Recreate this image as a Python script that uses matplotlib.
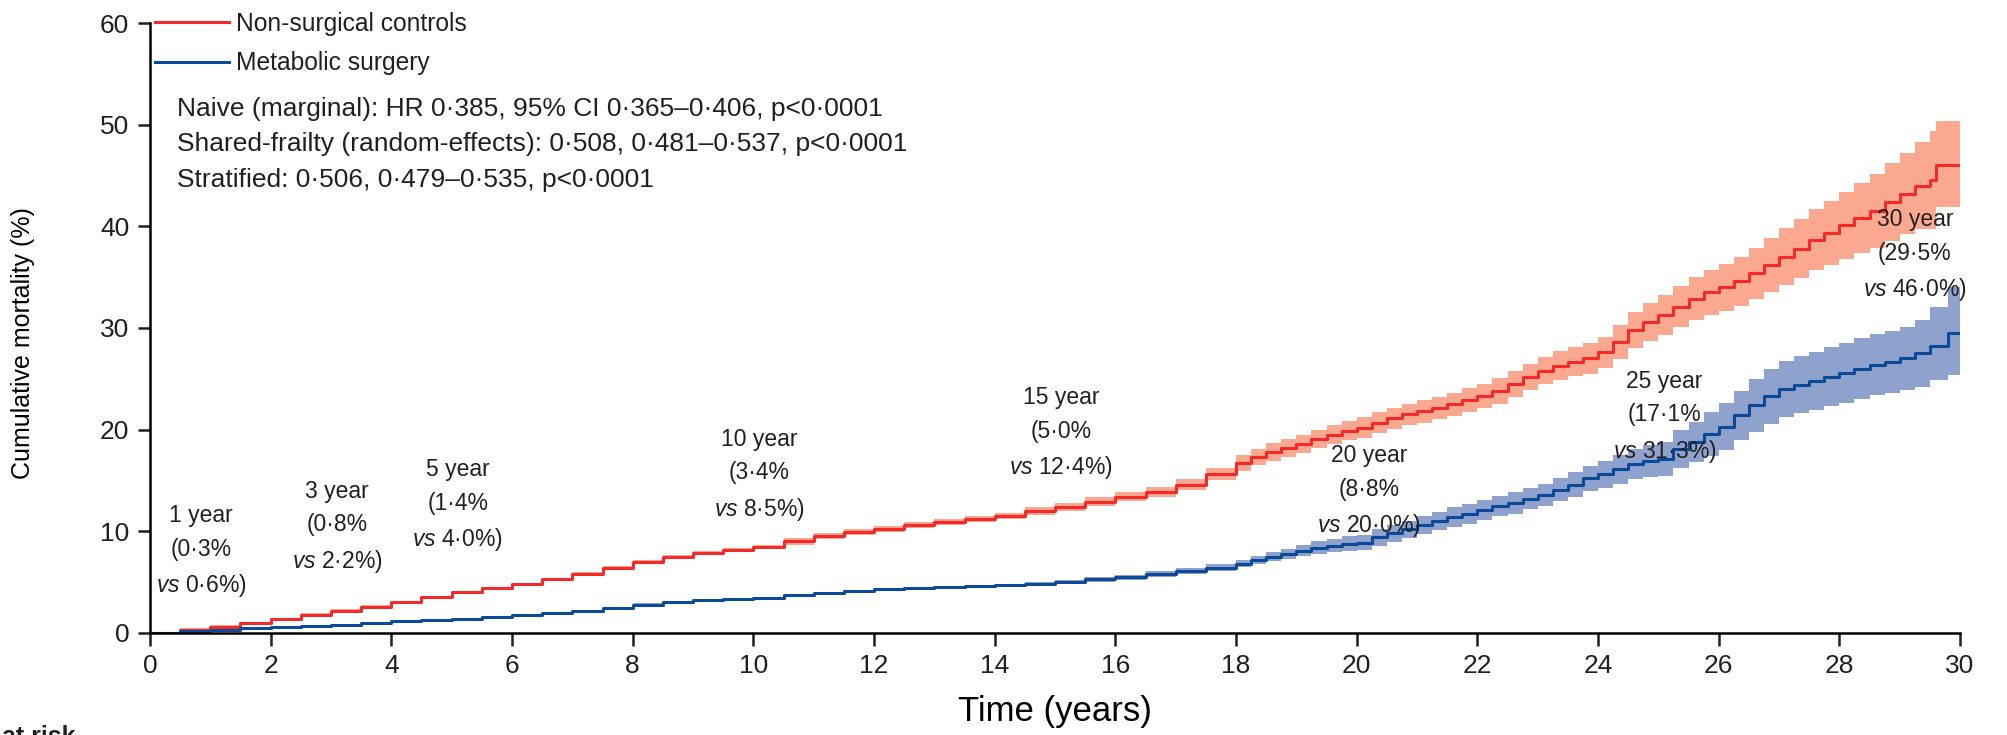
import numpy as np
import matplotlib
matplotlib.use("Agg")
import matplotlib.pyplot as plt
from matplotlib import font_manager

# time grid (years): 0.5-year steps to 17.5, then 0.25-year steps
t = [0.0, 0.5, 1.0, 1.5, 2.0, 2.5, 3.0, 3.5, 4.0, 4.5, 5.0, 5.5, 6.0, 6.5, 7.0, 7.5,
     8.0, 8.5, 9.0, 9.5, 10.0, 10.5, 11.0, 11.5, 12.0, 12.5, 13.0, 13.5, 14.0, 14.5,
     15.0, 15.5, 16.0, 16.5, 17.0, 17.5,
     18.0, 18.25, 18.5, 18.75, 19.0, 19.25, 19.5, 19.75, 20.0, 20.25, 20.5, 20.75,
     21.0, 21.25, 21.5, 21.75, 22.0, 22.25, 22.5, 22.75, 23.0, 23.25, 23.5, 23.75,
     24.0, 24.25, 24.5, 24.75, 25.0, 25.25, 25.5, 25.75, 26.0, 26.25, 26.5, 26.75,
     27.0, 27.25, 27.5, 27.75, 28.0, 28.25, 28.5, 28.75, 29.0, 29.25, 29.5,
     29.6, 29.8, 30.0]

# non-surgical controls, cumulative mortality (%) and 95% CI
controls = [0.0, 0.3, 0.6, 0.95, 1.35, 1.8, 2.2, 2.6, 3.0, 3.5, 4.0, 4.4, 4.8, 5.3, 5.8, 6.4,
            7.0, 7.5, 7.9, 8.2, 8.5, 9.0, 9.5, 9.9, 10.2, 10.6, 10.9, 11.2, 11.5, 12.0,
            12.4, 12.9, 13.4, 13.9, 14.6, 15.6,
            16.7, 17.3, 17.8, 18.2, 18.6, 19.1, 19.5, 19.9, 20.2, 20.7, 21.1, 21.5,
            21.8, 22.1, 22.5, 22.9, 23.3, 23.8, 24.5, 25.2, 25.8, 26.3, 26.7, 27.0,
            27.6, 28.6, 29.8, 30.6, 31.3, 32.1, 32.9, 33.5, 34.0, 34.6, 35.4, 36.2,
            37.0, 37.8, 38.7, 39.3, 40.1, 40.8, 41.5, 42.4, 43.2, 44.0, 44.6,
            46.0, 46.0, 46.0]
controls_lo = [0.0, 0.15, 0.45, 0.8, 1.2, 1.65, 2.05, 2.45, 2.85, 3.35, 3.85, 4.25, 4.65, 5.15, 5.65, 6.25,
               6.85, 7.35, 7.75, 8.05, 8.3, 8.7, 9.2, 9.6, 9.9, 10.3, 10.6, 10.9, 11.2, 11.6,
               12.0, 12.45, 12.95, 13.4, 14.1, 15.0,
               15.9, 16.5, 16.95, 17.35, 17.7, 18.2, 18.55, 18.95, 19.2, 19.7, 20.05, 20.45,
               20.7, 21.0, 21.35, 21.75, 22.1, 22.55, 23.2, 23.9, 24.45, 24.9, 25.25, 25.5,
               26.05, 26.95, 28.05, 28.75, 29.35, 30.1, 30.8, 31.3, 31.7, 32.2, 32.9, 33.55,
               34.2, 34.9, 35.7, 36.15, 36.8, 37.35, 37.9, 38.6, 39.2, 39.7, 39.7,
               41.9, 41.9, 41.9]
controls_hi = [0.0, 0.45, 0.75, 1.1, 1.5, 1.95, 2.35, 2.75, 3.15, 3.65, 4.15, 4.55, 4.95, 5.45, 5.95, 6.55,
               7.15, 7.65, 8.05, 8.35, 8.7, 9.3, 9.8, 10.2, 10.5, 10.9, 11.2, 11.5, 11.8, 12.4,
               12.8, 13.35, 13.85, 14.4, 15.1, 16.2,
               17.5, 18.1, 18.65, 19.05, 19.5, 20.0, 20.45, 20.85, 21.2, 21.7, 22.15, 22.55,
               22.9, 23.2, 23.65, 24.05, 24.5, 25.05, 25.8, 26.5, 27.15, 27.7, 28.15, 28.5,
               29.15, 30.25, 31.55, 32.45, 33.25, 34.1, 35.0, 35.7, 36.3, 37.0, 37.9, 38.85,
               39.8, 40.7, 41.7, 42.45, 43.4, 44.25, 45.1, 46.2, 47.2, 48.3, 49.4,
               50.4, 50.4, 50.4]

# metabolic surgery, cumulative mortality (%) and 95% CI
surgery = [0.0, 0.15, 0.3, 0.45, 0.6, 0.7, 0.8, 1.0, 1.15, 1.3, 1.4, 1.6, 1.8, 2.0, 2.2, 2.5,
           2.8, 3.0, 3.2, 3.3, 3.4, 3.7, 3.9, 4.1, 4.3, 4.4, 4.5, 4.6, 4.7, 4.85,
           5.0, 5.3, 5.5, 5.8, 6.1, 6.4,
           6.8, 7.2, 7.5, 7.8, 8.1, 8.4, 8.6, 8.8, 8.9, 9.4, 9.8, 10.2,
           10.6, 11.0, 11.4, 11.7, 12.1, 12.5, 12.8, 13.2, 13.6, 14.1, 14.6, 15.2,
           15.6, 16.1, 16.6, 16.9, 17.1, 18.1, 18.8, 19.6, 20.3, 21.4, 22.4, 23.3,
           24.0, 24.4, 24.8, 25.2, 25.6, 26.0, 26.4, 26.7, 27.0, 27.5, 28.2,
           28.2, 29.5, 29.5]
surgery_lo = [0.0, 0.05, 0.2, 0.35, 0.5, 0.6, 0.7, 0.9, 1.05, 1.2, 1.3, 1.5, 1.7, 1.9, 2.1, 2.4,
              2.7, 2.9, 3.1, 3.2, 3.25, 3.55, 3.75, 3.95, 4.15, 4.25, 4.35, 4.45, 4.55, 4.7,
              4.8, 5.05, 5.25, 5.55, 5.8, 6.05,
              6.45, 6.8, 7.05, 7.3, 7.55, 7.8, 7.95, 8.1, 8.15, 8.6, 8.95, 9.35,
              9.7, 10.1, 10.45, 10.75, 11.1, 11.5, 11.75, 12.15, 12.5, 12.95, 13.4, 13.95,
              14.3, 14.7, 15.1, 15.3, 15.4, 16.25, 16.8, 17.45, 18.0, 18.95, 19.8, 20.6,
              21.25, 21.6, 21.95, 22.3, 22.65, 23.0, 23.4, 23.65, 23.9, 24.2, 24.9,
              24.9, 25.4, 25.4]
surgery_hi = [0.0, 0.25, 0.4, 0.55, 0.7, 0.8, 0.9, 1.1, 1.25, 1.4, 1.5, 1.7, 1.9, 2.1, 2.3, 2.6,
              2.9, 3.1, 3.3, 3.4, 3.55, 3.85, 4.05, 4.25, 4.45, 4.55, 4.65, 4.75, 4.85, 5.0,
              5.2, 5.55, 5.75, 6.05, 6.4, 6.75,
              7.15, 7.6, 7.95, 8.3, 8.65, 9.0, 9.25, 9.5, 9.65, 10.2, 10.65, 11.05,
              11.5, 11.9, 12.35, 12.65, 13.1, 13.5, 13.85, 14.25, 14.7, 15.25, 15.8, 16.45,
              16.9, 17.5, 18.1, 18.5, 18.8, 19.95, 20.8, 21.75, 22.6, 23.85, 25.0, 26.0,
              26.75, 27.2, 27.65, 28.1, 28.55, 29.0, 29.4, 29.75, 30.1, 30.8, 32.1,
              32.1, 34.0, 34.0]

labels = ["Non-surgical controls", "Metabolic surgery"]
stats = ["Naive (marginal): HR 0·385, 95% CI 0·365–0·406, p<0·0001",
         "Shared-frailty (random-effects): 0·508, 0·481–0·537, p<0·0001",
         "Stratified: 0·506, 0·479–0·535, p<0·0001"]

# landmark annotations: (label, surgery %, controls %, x, y)
marks = [("1 year", "0·3", "0·6", 0.85, 8.0),
         ("3 year", "0·8", "2·2", 3.1, 10.4),
         ("5 year", "1·4", "4·0", 5.1, 12.5),
         ("10 year", "3·4", "8·5", 10.1, 15.5),
         ("15 year", "5·0", "12·4", 15.1, 19.6),
         ("20 year", "8·8", "20·0", 20.2, 13.9),
         ("25 year", "17·1", "31·3", 25.1, 21.2),
         ("30 year", "29·5", "46·0", 29.25, 37.1)]

names = {f.name for f in font_manager.fontManager.ttflist}
main_font = "Liberation Sans Narrow" if "Liberation Sans Narrow" in names else "Liberation Sans"
plt.rcParams["font.family"] = [main_font, "DejaVu Sans"]
plt.rcParams["mathtext.fontset"] = "custom"
plt.rcParams["mathtext.rm"] = main_font
plt.rcParams["mathtext.it"] = main_font + ":italic"
plt.rcParams["text.color"] = "#231f20"

red = "#f42a2a"
red_band = "#fba890"
blue = "#0a4a97"
blue_band = "#8fa1cd"

fig = plt.figure(figsize=(20.08, 7.35), dpi=100)
ax = fig.add_axes([0.0747, 0.1388, 0.9014, 0.8299])

ax.fill_between(t, controls_lo, controls_hi, step="post", color=red_band, lw=0)
ax.fill_between(t, surgery_lo, surgery_hi, step="post", color=blue_band, lw=0)
ax.step(t, controls, where="post", color=red, lw=2.2, label=labels[0])
ax.step(t, surgery, where="post", color=blue, lw=2.2, label=labels[1])

for lab, s, c, x, y in marks:
    ax.text(x, y, lab + "\n(" + s + "%\n$\\mathit{vs}$ " + c + "%)", ha="center", va="center",
            fontsize=16.5, linespacing=1.58)

ax.text(0.45, 48.05, "\n".join(stats), ha="left", va="center", fontsize=19, linespacing=1.62)

leg = ax.legend(loc="upper left", bbox_to_anchor=(0.0, 1.026), frameon=False, fontsize=17.7,
                handlelength=3.0, handletextpad=0.3, labelspacing=0.62, borderpad=0.2,
                borderaxespad=0)

ax.set_xlim(0, 30)
ax.set_ylim(0, 60)
ax.set_xticks(np.arange(0, 31, 2))
ax.set_yticks(np.arange(0, 61, 10))
ax.spines["top"].set_visible(False)
ax.spines["right"].set_visible(False)
ax.spines["left"].set_linewidth(1.8)
ax.spines["bottom"].set_linewidth(1.8)
ax.tick_params(direction="out", length=9, width=1.8, labelsize=19, colors="#231f20", pad=6)
ax.set_xlabel("Time (years)", fontsize=25)
ax.set_ylabel("Cumulative mortality (%)", fontsize=18)
ax.xaxis.set_label_coords(0.5, -0.102)
ax.yaxis.set_label_coords(-0.0635, 0.475)

fig.text(0.001, 0.0136, "at risk", ha="left", va="top", fontsize=18, fontweight="bold")

plt.savefig("out.png", dpi=100)
